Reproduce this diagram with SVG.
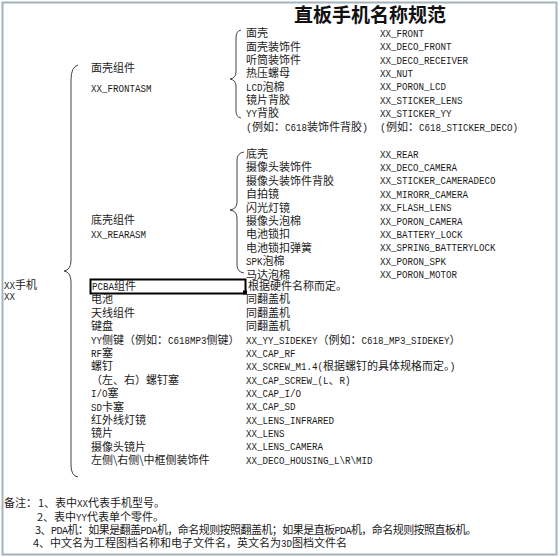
<svg xmlns="http://www.w3.org/2000/svg" width="560" height="557" viewBox="0 0 560 557">
<style>
.c{font-family:"Noto Sans CJK SC","Liberation Sans",sans-serif;font-size:11px;fill:#1a1a1a}
.m{font-family:"Liberation Mono",monospace;font-size:10px;fill:#1a1a1a}
.ml{font-family:"Liberation Mono",monospace;font-size:10px;fill:#1a1a1a}
.t{font-family:"Noto Sans CJK SC",sans-serif;font-size:19px;font-weight:bold;fill:#111}
.br{fill:none;stroke:#444;stroke-width:1}
</style>
<rect x="0" y="0" width="560" height="557" fill="#fff"/>
<rect x="2.5" y="2.5" width="554" height="552" fill="#fff" stroke="#a3b4be" stroke-width="2"/>
<text class="t" x="370" y="22" text-anchor="middle">直板手机名称规范</text>

<g id="connectors">
<path class="br" d="M78,65 Q71,67 71,80 L71,260 Q71,270 64,271 Q71,272 71,282 L71,465 Q71,476 78,477"/>
<path class="br" d="M241,30 Q236,31 236,38 L236,72 Q236,78 230,79 Q236,80 236,86 L236,111 Q236,117 241,118"/>
<path class="br" d="M244,152 Q237,153 237,160 L237,202 Q237,209 230,210 Q237,211 237,218 L237,265 Q237,272 244,273"/>
</g>

<g id="root">
<text class="c" x="4" y="289"><tspan class="m" textLength="11" lengthAdjust="spacingAndGlyphs">XX</tspan>手机</text>
<text class="ml" x="4" y="299.5" textLength="11" lengthAdjust="spacingAndGlyphs">XX</text>
</g>

<g id="frontasm">
<text class="c" x="91" y="72">面壳组件</text>
<text class="ml" x="91" y="91.5" textLength="60.5" lengthAdjust="spacingAndGlyphs">XX_FRONTASM</text>
</g>
<g id="rearasm">
<text class="c" x="91" y="224">底壳组件</text>
<text class="ml" x="91" y="237.5" textLength="55" lengthAdjust="spacingAndGlyphs">XX_REARASM</text>
</g>

<g id="front-items">
<g id="f1"><text class="c" x="246" y="37.3">面壳</text><text class="ml" x="380" y="36.8" textLength="44" lengthAdjust="spacingAndGlyphs">XX_FRONT</text></g>
<g id="f2"><text class="c" x="246" y="50.7">面壳装饰件</text><text class="ml" x="380" y="50.2" textLength="71.5" lengthAdjust="spacingAndGlyphs">XX_DECO_FRONT</text></g>
<g id="f3"><text class="c" x="246" y="64">听筒装饰件</text><text class="ml" x="380" y="63.5" textLength="88" lengthAdjust="spacingAndGlyphs">XX_DECO_RECEIVER</text></g>
<g id="f4"><text class="c" x="246" y="77.4">热压螺母</text><text class="ml" x="380" y="76.9" textLength="33" lengthAdjust="spacingAndGlyphs">XX_NUT</text></g>
<g id="f5"><text class="c" x="246" y="90.7"><tspan class="m" textLength="16.5" lengthAdjust="spacingAndGlyphs">LCD</tspan>泡棉</text><text class="ml" x="380" y="90.2" textLength="66" lengthAdjust="spacingAndGlyphs">XX_PORON_LCD</text></g>
<g id="f6"><text class="c" x="246" y="104">镜片背胶</text><text class="ml" x="380" y="103.5" textLength="82.5" lengthAdjust="spacingAndGlyphs">XX_STICKER_LENS</text></g>
<g id="f7"><text class="c" x="246" y="117.4"><tspan class="m" textLength="11" lengthAdjust="spacingAndGlyphs">YY</tspan>背胶</text><text class="ml" x="380" y="116.9" textLength="71.5" lengthAdjust="spacingAndGlyphs">XX_STICKER_YY</text></g>
<g id="f8"><text class="c" x="246" y="130.8"><tspan class="m">(</tspan>例如：<tspan class="m" textLength="22" lengthAdjust="spacingAndGlyphs">C618</tspan>装饰件背胶<tspan class="m">)</tspan></text><text class="c" x="380" y="130.8"><tspan class="m">(</tspan>例如：<tspan class="m" textLength="99" lengthAdjust="spacingAndGlyphs">C618_STICKER_DECO)</tspan></text></g>
</g>

<g id="rear-items">
<g id="r1"><text class="c" x="246" y="158">底壳</text><text class="ml" x="380" y="157.5" textLength="38.5" lengthAdjust="spacingAndGlyphs">XX_REAR</text></g>
<g id="r2"><text class="c" x="246" y="171.4">摄像头装饰件</text><text class="ml" x="380" y="170.9" textLength="77" lengthAdjust="spacingAndGlyphs">XX_DECO_CAMERA</text></g>
<g id="r3"><text class="c" x="246" y="184.8">摄像头装饰件背胶</text><text class="ml" x="380" y="184.3" textLength="115.5" lengthAdjust="spacingAndGlyphs">XX_STICKER_CAMERADECO</text></g>
<g id="r4"><text class="c" x="246" y="198.2">自拍镜</text><text class="ml" x="380" y="197.7" textLength="88" lengthAdjust="spacingAndGlyphs">XX_MIRORR_CAMERA</text></g>
<g id="r5"><text class="c" x="246" y="211.6">闪光灯镜</text><text class="ml" x="380" y="211.1" textLength="71.5" lengthAdjust="spacingAndGlyphs">XX_FLASH_LENS</text></g>
<g id="r6"><text class="c" x="246" y="225">摄像头泡棉</text><text class="ml" x="380" y="224.5" textLength="82.5" lengthAdjust="spacingAndGlyphs">XX_PORON_CAMERA</text></g>
<g id="r7"><text class="c" x="246" y="238.4">电池锁扣</text><text class="ml" x="380" y="237.9" textLength="82.5" lengthAdjust="spacingAndGlyphs">XX_BATTERY_LOCK</text></g>
<g id="r8"><text class="c" x="246" y="251.8">电池锁扣弹簧</text><text class="ml" x="380" y="251.3" textLength="115.5" lengthAdjust="spacingAndGlyphs">XX_SPRING_BATTERYLOCK</text></g>
<g id="r9"><text class="c" x="246" y="265.2"><tspan class="m" textLength="16.5" lengthAdjust="spacingAndGlyphs">SPK</tspan>泡棉</text><text class="ml" x="380" y="264.7" textLength="66" lengthAdjust="spacingAndGlyphs">XX_PORON_SPK</text></g>
<g id="r10"><text class="c" x="246" y="278.6">马达泡棉</text><text class="ml" x="380" y="278.1" textLength="77" lengthAdjust="spacingAndGlyphs">XX_PORON_MOTOR</text></g>
</g>

<g id="other-items">
<g id="o1"><rect x="90.5" y="279.5" width="155" height="14" fill="none" stroke="#000" stroke-width="2"/><rect x="243" y="290.5" width="4" height="4" fill="#000"/><text class="c" x="92" y="290"><tspan class="m" textLength="22" lengthAdjust="spacingAndGlyphs">PCBA</tspan>组件</text><text class="c" x="248" y="290">根据硬件名称而定。</text></g>
<g id="o2"><text class="c" x="91" y="303.4">电池</text><text class="c" x="246" y="303.4">同翻盖机</text></g>
<g id="o3"><text class="c" x="91" y="316.8">天线组件</text><text class="c" x="246" y="316.8">同翻盖机</text></g>
<g id="o4"><text class="c" x="91" y="330.2">键盘</text><text class="c" x="246" y="330.2">同翻盖机</text></g>
<g id="o5"><text class="c" x="91" y="343.6"><tspan class="m" textLength="11" lengthAdjust="spacingAndGlyphs">YY</tspan>侧键（例如：<tspan class="m" textLength="38.5" lengthAdjust="spacingAndGlyphs">C618MP3</tspan>侧键）</text><text class="c" x="246" y="343.6"><tspan class="m" textLength="71.5" lengthAdjust="spacingAndGlyphs">XX_YY_SIDEKEY</tspan>（例如：<tspan class="m" textLength="88" lengthAdjust="spacingAndGlyphs">C618_MP3_SIDEKEY</tspan>）</text></g>
<g id="o6"><text class="c" x="91" y="357"><tspan class="m" textLength="11" lengthAdjust="spacingAndGlyphs">RF</tspan>塞</text><text class="ml" x="246" y="356.5" textLength="49.5" lengthAdjust="spacingAndGlyphs">XX_CAP_RF</text></g>
<g id="o7"><text class="c" x="91" y="370.4">螺钉</text><text class="c" x="246" y="370.4"><tspan class="m" textLength="77" lengthAdjust="spacingAndGlyphs">XX_SCREW_M1.4(</tspan>根据螺钉的具体规格而定。<tspan class="m">)</tspan></text></g>
<g id="o8"><text class="c" x="91" y="383.8">（左、右）螺钉塞</text><text class="c" x="246" y="383.8"><tspan class="m" textLength="82.5" lengthAdjust="spacingAndGlyphs">XX_CAP_SCREW_(L</tspan>、<tspan class="m" textLength="11" lengthAdjust="spacingAndGlyphs">R)</tspan></text></g>
<g id="o9"><text class="c" x="91" y="397.2"><tspan class="m" textLength="16.5" lengthAdjust="spacingAndGlyphs">I/O</tspan>塞</text><text class="ml" x="246" y="396.7" textLength="55" lengthAdjust="spacingAndGlyphs">XX_CAP_I/O</text></g>
<g id="o10"><text class="c" x="91" y="410.6"><tspan class="m" textLength="11" lengthAdjust="spacingAndGlyphs">SD</tspan>卡塞</text><text class="ml" x="246" y="410.1" textLength="49.5" lengthAdjust="spacingAndGlyphs">XX_CAP_SD</text></g>
<g id="o11"><text class="c" x="91" y="424">红外线灯镜</text><text class="ml" x="246" y="423.5" textLength="88" lengthAdjust="spacingAndGlyphs">XX_LENS_INFRARED</text></g>
<g id="o12"><text class="c" x="91" y="437.4">镜片</text><text class="ml" x="246" y="436.9" textLength="38.5" lengthAdjust="spacingAndGlyphs">XX_LENS</text></g>
<g id="o13"><text class="c" x="91" y="450.8">摄像头镜片</text><text class="ml" x="246" y="450.3" textLength="77" lengthAdjust="spacingAndGlyphs">XX_LENS_CAMERA</text></g>
<g id="o14"><text class="c" x="91" y="464.2">左侧\右侧\中框侧装饰件</text><text class="ml" x="246" y="463.7" textLength="126.5" lengthAdjust="spacingAndGlyphs">XX_DECO_HOUSING_L\R\MID</text></g>
</g>

<g id="notes">
<text class="c" x="4" y="507">备注：</text>
<text class="c" x="38" y="507">1、表中<tspan class="m" textLength="11" lengthAdjust="spacingAndGlyphs">XX</tspan>代表手机型号。</text>
<text class="c" x="37" y="521">2、表中<tspan class="m" textLength="11" lengthAdjust="spacingAndGlyphs">YY</tspan>代表单个零件。</text>
<text class="c" x="35" y="533.5" style="letter-spacing:-0.55px">3、<tspan class="m">PDA</tspan>机：如果是翻盖<tspan class="m">PDA</tspan>机，命名规则按照翻盖机；如果是直板<tspan class="m">PDA</tspan>机，命名规则按照直板机。</text>
<text class="c" x="33" y="547">4、中文名为工程图档名称和电子文件名，英文名为<tspan class="m" textLength="11" lengthAdjust="spacingAndGlyphs">3D</tspan>图档文件名</text>
</g>
</svg>
